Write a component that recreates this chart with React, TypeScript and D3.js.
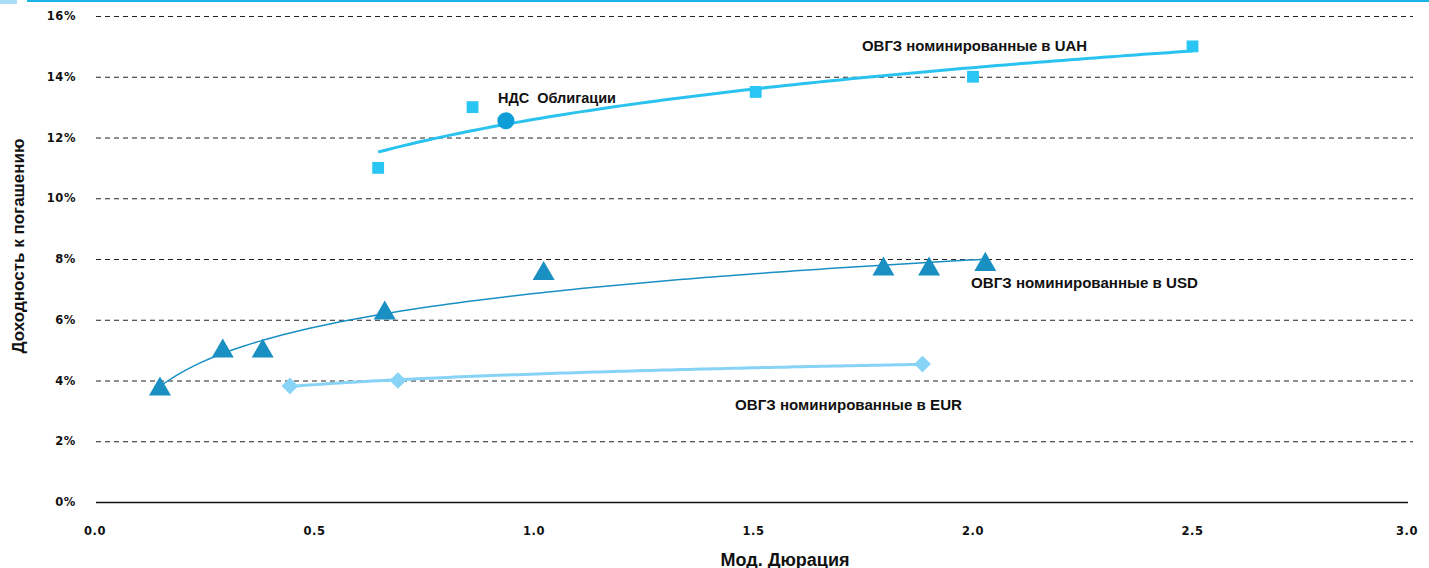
import React, { useEffect, useRef } from 'react';
import * as d3 from 'd3';

// ОВГЗ номинированные в UAH
const uahDur = [0.645, 0.86, 1.505, 2.0, 2.5];
const uahYld = [11.0, 13.0, 13.5, 14.0, 15.0];
// ОВГЗ номинированные в USD
const usdDur = [0.148, 0.291, 0.382, 0.66, 1.022, 1.796, 1.9, 2.028];
const usdYld = [3.75, 5.0, 5.0, 6.25, 7.55, 7.7, 7.7, 7.85];
// ОВГЗ номинированные в EUR
const eurDur = [0.444, 0.69, 1.885];
const eurYld = [3.82, 4.0, 4.54];
// НДС облигации
const ndsDur = [0.936];
const ndsYld = [12.55];

const xTicks = [0, 0.5, 1.0, 1.5, 2.0, 2.5, 3.0];
const yTicks = [0, 2, 4, 6, 8, 10, 12, 14, 16];

// logarithmic trend line  y = a + b ln(x)
function logFit(xs: number[], ys: number[]) {
  const lx = xs.map(Math.log);
  const mx = d3.mean(lx)!;
  const my = d3.mean(ys)!;
  let sxy = 0, sxx = 0;
  lx.forEach((v, i) => { sxy += (v - mx) * (ys[i] - my); sxx += (v - mx) * (v - mx); });
  const b = sxy / sxx;
  const a = my - b * mx;
  const [lo, hi] = d3.extent(xs) as [number, number];
  return d3.range(0, 101).map(i => {
    const x = lo + (hi - lo) * i / 100;
    return [x, a + b * Math.log(x)] as [number, number];
  });
}

const App: React.FC = () => {
  const svgRef = useRef<SVGSVGElement>(null);

  useEffect(() => {
    if (!svgRef.current) return;
    d3.select(svgRef.current).selectAll('*').remove();

    const width = 1429;
    const height = 568;
    const svg = d3.select(svgRef.current)
      .attr('width', width)
      .attr('height', height)
      .style('position', 'absolute')
      .style('left', '0px')
      .style('top', '0px');

    const x = d3.scaleLinear().domain([0, 3]).range([95, 1412]);
    const y = d3.scaleLinear().domain([0, 16]).range([502, 16]);

    // top decoration
    svg.append('rect').attr('x', 0).attr('y', 0).attr('width', 17).attr('height', 4).attr('fill', '#a9dcf3');
    svg.append('rect').attr('x', 27).attr('y', 0).attr('width', width - 27).attr('height', 2).attr('fill', '#19b3e6');

    const tickFont = 'DejaVu Sans, Verdana, sans-serif';

    // grid
    svg.selectAll('line.grid')
      .data(yTicks.filter(t => t > 0))
      .enter()
      .append('line')
      .attr('x1', 96)
      .attr('x2', 1413)
      .attr('y1', d => y(d) + 0.5)
      .attr('y2', d => y(d) + 0.5)
      .attr('stroke', '#222')
      .attr('stroke-width', 1)
      .attr('stroke-dasharray', '5,4');

    // x axis line
    svg.append('line')
      .attr('x1', 96).attr('x2', 1408)
      .attr('y1', y(0) + 0.5).attr('y2', y(0) + 0.5)
      .attr('stroke', '#111').attr('stroke-width', 1.5);

    svg.selectAll('text.ytick')
      .data(yTicks)
      .enter()
      .append('text')
      .attr('x', 76)
      .attr('y', d => y(d) + 4)
      .attr('text-anchor', 'end')
      .attr('font-family', tickFont)
      .attr('font-weight', 'bold')
      .attr('font-size', 11.5)
      .attr('letter-spacing', 0.6)
      .attr('fill', '#111')
      .text(d => `${d}%`);

    svg.selectAll('text.xtick')
      .data(xTicks)
      .enter()
      .append('text')
      .attr('x', d => Math.min(x(d), 1407))
      .attr('y', 535)
      .attr('text-anchor', 'middle')
      .attr('font-family', tickFont)
      .attr('font-weight', 'bold')
      .attr('font-size', 11.5)
      .attr('letter-spacing', 0.6)
      .attr('fill', '#111')
      .text(d => d.toFixed(1));

    // axis titles
    svg.append('text')
      .attr('transform', 'translate(24,246) rotate(-90)')
      .attr('text-anchor', 'middle')
      .attr('font-family', 'Liberation Sans, Arial, sans-serif')
      .attr('font-weight', 'bold')
      .attr('font-size', 17)
      .attr('fill', '#111')
      .text('Доходность к погашению');

    svg.append('text')
      .attr('x', 785)
      .attr('y', 566)
      .attr('text-anchor', 'middle')
      .attr('font-family', 'Liberation Sans, Arial, sans-serif')
      .attr('font-weight', 'bold')
      .attr('font-size', 18)
      .attr('fill', '#111')
      .text('Мод. Дюрация');

    const line = d3.line<[number, number]>()
      .x(d => x(d[0]))
      .y(d => y(d[1]));

    // trend lines
    svg.append('path')
      .attr('d', line(logFit(uahDur, uahYld)))
      .attr('fill', 'none').attr('stroke', '#2ac2ef').attr('stroke-width', 3);
    svg.append('path')
      .attr('d', line(logFit(usdDur, usdYld)))
      .attr('fill', 'none').attr('stroke', '#1a8fc4').attr('stroke-width', 1.5);
    svg.append('path')
      .attr('d', line(logFit(eurDur, eurYld)))
      .attr('fill', 'none').attr('stroke', '#86d3f6').attr('stroke-width', 3);

    // markers
    const sq = d3.symbol().type(d3.symbolSquare).size(140);
    const tri = d3.symbol().type(d3.symbolTriangle).size(210);
    const dia = d3.symbol().type(d3.symbolSquare).size(140);
    const circ = d3.symbol().type(d3.symbolCircle).size(230);

    svg.selectAll('path.uah')
      .data(uahDur.map((d, i) => [d, uahYld[i]]))
      .enter()
      .append('path')
      .attr('d', sq)
      .attr('transform', d => `translate(${x(d[0])},${y(d[1])})`)
      .attr('fill', '#29c5f3');

    svg.selectAll('path.usd')
      .data(usdDur.map((d, i) => [d, usdYld[i]]))
      .enter()
      .append('path')
      .attr('d', tri)
      .attr('transform', d => `translate(${x(d[0])},${y(d[1]) + 1})`)
      .attr('fill', '#1a8fc2');

    svg.selectAll('path.eur')
      .data(eurDur.map((d, i) => [d, eurYld[i]]))
      .enter()
      .append('path')
      .attr('d', dia)
      .attr('transform', d => `translate(${x(d[0])},${y(d[1])}) rotate(45)`)
      .attr('fill', '#87d4f6');

    svg.selectAll('path.nds')
      .data(ndsDur.map((d, i) => [d, ndsYld[i]]))
      .enter()
      .append('path')
      .attr('d', circ)
      .attr('transform', d => `translate(${x(d[0])},${y(d[1])})`)
      .attr('fill', '#0f9fd8');

    // series labels
    const labels = [
      { t: 'ОВГЗ номинированные в UAH', x: 862, y: 51, w: 225 },
      { t: 'НДС  Облигации', x: 498, y: 103, w: 118 },
      { t: 'ОВГЗ номинированные в USD', x: 971, y: 288, w: 227 },
      { t: 'ОВГЗ номинированные в EUR', x: 735, y: 410, w: 227 },
    ];
    svg.selectAll('text.lbl')
      .data(labels)
      .enter()
      .append('text')
      .attr('x', d => d.x)
      .attr('y', d => d.y)
      .attr('textLength', d => d.w)
      .attr('lengthAdjust', 'spacingAndGlyphs')
      .attr('font-family', 'Liberation Sans Narrow, Liberation Sans, Arial, sans-serif')
      .attr('font-weight', 'bold')
      .attr('font-size', 14)
      .attr('fill', '#111')
      .style('white-space', 'pre')
      .text(d => d.t);
  }, []);

  return <svg ref={svgRef}></svg>;
};

export default App;
